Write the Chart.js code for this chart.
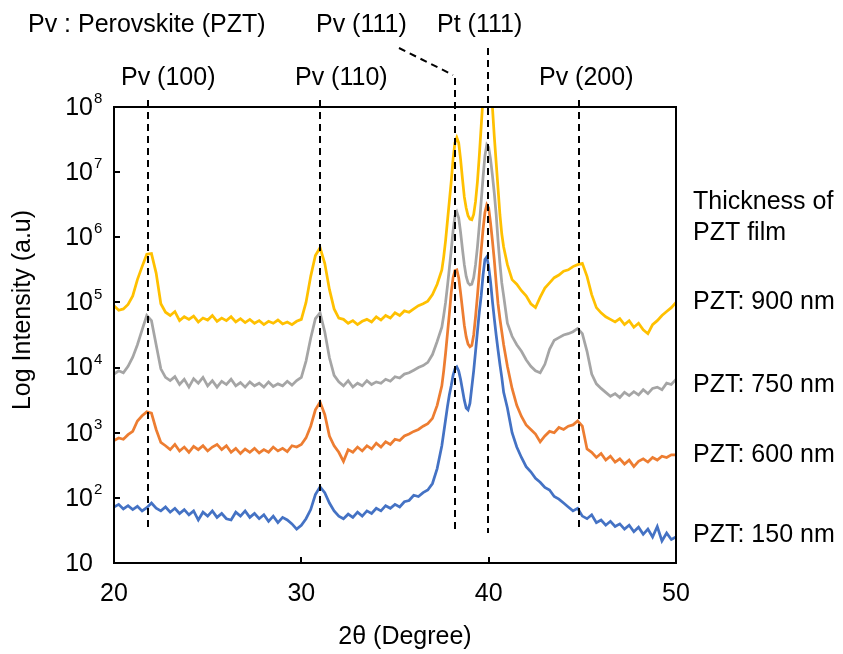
<!DOCTYPE html>
<html>
<head>
<meta charset="utf-8">
<script src="https://cdn.jsdelivr.net/npm/chart.js@4.4.1/dist/chart.umd.min.js"></script>
<style>
  html, body { margin: 0; padding: 0; background: #fff; }
  #wrap { width: 843px; height: 654px; }
</style>
</head>
<body>
<div id="wrap"><canvas id="xrdChart" width="843" height="654"></canvas></div>
<script>
// 2-theta grid (degrees)
const angles = [
  20, 20.25, 20.5, 20.75, 21, 21.25, 21.5, 21.75, 22, 22.25,
  22.5, 22.75, 23, 23.25, 23.5, 23.75, 24, 24.25, 24.5, 24.75,
  25, 25.25, 25.5, 25.75, 26, 26.25, 26.5, 26.75, 27, 27.25,
  27.5, 27.75, 28, 28.25, 28.5, 28.75, 29, 29.25, 29.5, 29.75,
  30, 30.25, 30.5, 30.75, 31, 31.25, 31.5, 31.75, 32, 32.25,
  32.5, 32.75, 33, 33.25, 33.5, 33.75, 34, 34.25, 34.5, 34.75,
  35, 35.25, 35.5, 35.75, 36, 36.25, 36.5, 36.75, 37, 37.25,
  37.5,
  37.6, 37.7, 37.8, 37.9, 38.0, 38.1, 38.2, 38.3, 38.4, 38.5,
  38.6, 38.7, 38.8, 38.9, 39.0, 39.1, 39.2, 39.3, 39.4, 39.5,
  39.6, 39.7, 39.8, 39.9, 40.0, 40.1, 40.2, 40.3, 40.4, 40.5,
  40.6, 40.7, 40.8,
  41, 41.25, 41.5, 41.75, 42, 42.25, 42.5, 42.75, 43, 43.25,
  43.5, 43.75, 44, 44.25, 44.5, 44.75, 45, 45.25, 45.5, 45.75,
  46, 46.25, 46.5, 46.75, 47, 47.25, 47.5, 47.75, 48, 48.25,
  48.5, 48.75, 49, 49.25, 49.5, 49.75, 50
];

// log10 of intensity
const log900 = [
  4.95, 4.88, 4.90, 4.97, 5.10, 5.35, 5.55, 5.74, 5.75, 5.45,
  4.98, 4.85, 4.80, 4.86, 4.72, 4.78, 4.74, 4.79, 4.70, 4.76,
  4.73, 4.80, 4.71, 4.76, 4.72, 4.78, 4.70, 4.75, 4.69, 4.74,
  4.68, 4.72, 4.66, 4.71, 4.68, 4.73, 4.67, 4.70, 4.66, 4.71,
  4.74, 5.00, 5.40, 5.72, 5.84, 5.60, 5.20, 4.90, 4.76, 4.74,
  4.68, 4.72, 4.66, 4.71, 4.74, 4.70, 4.78, 4.73, 4.80, 4.76,
  4.84, 4.80, 4.87, 4.85, 4.90, 4.95, 4.98, 5.02, 5.12, 5.28,
  5.50,
  5.70, 5.95, 6.25, 6.55, 6.85, 7.20, 7.45, 7.53, 7.45, 7.20,
  6.90, 6.62, 6.45, 6.33, 6.28, 6.27, 6.35, 6.55, 6.85, 7.25,
  7.70, 8.15, 8.60, 8.90, 8.90, 8.50, 8.00, 7.55, 7.15, 6.75,
  6.35, 6.05, 5.85,
  5.58, 5.35, 5.28, 5.18, 5.10, 4.98, 4.92, 5.08, 5.22, 5.30,
  5.38, 5.42, 5.48, 5.50, 5.55, 5.58, 5.60, 5.40, 5.12, 4.92,
  4.84, 4.78, 4.74, 4.70, 4.75, 4.66, 4.72, 4.62, 4.68, 4.58,
  4.52, 4.66, 4.72, 4.80, 4.86, 4.92, 5.00
];
const log750 = [
  3.90, 3.95, 3.92, 4.02, 4.16, 4.35, 4.58, 4.80, 4.72, 4.35,
  3.98, 3.85, 3.80, 3.86, 3.74, 3.82, 3.70, 3.83, 3.76, 3.85,
  3.72, 3.80, 3.70, 3.79, 3.74, 3.82, 3.72, 3.77, 3.70, 3.78,
  3.72, 3.76, 3.70, 3.78, 3.71, 3.75, 3.72, 3.79, 3.73, 3.80,
  3.85, 4.10, 4.45, 4.75, 4.84, 4.55, 4.15, 3.88, 3.78, 3.72,
  3.80, 3.70, 3.76, 3.72, 3.80, 3.74, 3.78, 3.76, 3.82, 3.79,
  3.86, 3.84, 3.90, 3.92, 3.96, 4.00, 4.03, 4.08, 4.20, 4.40,
  4.62,
  4.80, 5.00, 5.25, 5.52, 5.80, 6.10, 6.33, 6.39, 6.30, 6.08,
  5.82, 5.58, 5.40, 5.30, 5.27, 5.28, 5.38, 5.58, 5.85, 6.18,
  6.55, 6.92, 7.25, 7.42, 7.38, 7.20, 6.95, 6.68, 6.35, 5.95,
  5.60, 5.30, 5.10,
  4.68, 4.48, 4.35, 4.25, 4.12, 4.02, 3.95, 3.92, 4.05, 4.28,
  4.42, 4.46, 4.50, 4.52, 4.55, 4.60, 4.52, 4.25, 3.90, 3.75,
  3.68, 3.62, 3.56, 3.60, 3.54, 3.62, 3.57, 3.63, 3.58, 3.66,
  3.60, 3.68, 3.70, 3.66, 3.76, 3.74, 3.82
];
const log600 = [
  2.88, 2.92, 2.90, 2.97, 3.02, 3.18, 3.26, 3.32, 3.30, 3.05,
  2.85, 2.80, 2.74, 2.82, 2.72, 2.78, 2.70, 2.79, 2.74, 2.80,
  2.72, 2.78, 2.82, 2.74, 2.80, 2.70, 2.76, 2.68, 2.75, 2.70,
  2.76, 2.69, 2.74, 2.70, 2.78, 2.72, 2.76, 2.71, 2.80, 2.78,
  2.82, 2.92, 3.10, 3.35, 3.47, 3.28, 2.95, 2.80, 2.70, 2.56,
  2.74, 2.70, 2.78, 2.72, 2.80, 2.75, 2.84, 2.78, 2.86, 2.82,
  2.90, 2.88, 2.95, 2.98, 3.02, 3.05, 3.10, 3.14, 3.22, 3.42,
  3.72,
  3.95, 4.22, 4.52, 4.82, 5.15, 5.38, 5.49, 5.50, 5.38, 5.15,
  4.90, 4.65, 4.47, 4.36, 4.32, 4.34, 4.50, 4.78, 5.10, 5.45,
  5.80, 6.12, 6.38, 6.50, 6.45, 6.22, 5.95, 5.65, 5.30, 4.98,
  4.75, 4.55, 4.35,
  4.02, 3.68, 3.42, 3.25, 3.12, 3.05, 2.98, 2.86, 2.95, 3.02,
  3.00, 3.08, 3.05, 3.10, 3.12, 3.18, 3.10, 2.75, 2.70, 2.62,
  2.68, 2.58, 2.64, 2.55, 2.60, 2.52, 2.58, 2.48, 2.56, 2.60,
  2.55, 2.62, 2.58, 2.64, 2.62, 2.66, 2.66
];
const log150 = [
  1.86, 1.90, 1.83, 1.88, 1.82, 1.87, 1.80, 1.85, 1.92, 1.84,
  1.80, 1.86, 1.78, 1.84, 1.76, 1.82, 1.74, 1.80, 1.66, 1.78,
  1.72, 1.80, 1.70, 1.76, 1.68, 1.66, 1.78, 1.72, 1.80, 1.70,
  1.76, 1.68, 1.74, 1.64, 1.72, 1.62, 1.70, 1.66, 1.60, 1.52,
  1.58, 1.68, 1.82, 2.05, 2.17, 2.08, 1.92, 1.80, 1.72, 1.68,
  1.75, 1.70, 1.78, 1.72, 1.80, 1.76, 1.84, 1.80, 1.88, 1.84,
  1.90, 1.86, 1.94, 1.96, 2.04, 2.02, 2.08, 2.12, 2.22, 2.45,
  2.80,
  3.00, 3.20, 3.40, 3.58, 3.72, 3.88, 3.98, 4.01, 3.95, 3.82,
  3.66, 3.50, 3.38, 3.35, 3.45, 3.70, 3.95, 4.25, 4.55, 4.85,
  5.10, 5.42, 5.66, 5.70, 5.55, 5.32, 5.02, 4.75, 4.50, 4.27,
  4.05, 3.85, 3.62,
  3.38, 3.00, 2.78, 2.62, 2.48, 2.40, 2.30, 2.24, 2.16, 2.12,
  2.02, 1.98, 1.92, 1.86, 1.80, 1.84, 1.72, 1.68, 1.74, 1.62,
  1.66, 1.58, 1.64, 1.56, 1.60, 1.52, 1.58, 1.48, 1.55, 1.44,
  1.52, 1.40, 1.56, 1.34, 1.46, 1.36, 1.40
];

const seriesNames = ['PZT: 900 nm', 'PZT: 750 nm', 'PZT: 600 nm', 'PZT: 150 nm'];
const seriesColors = ['#FFC000', '#A5A5A5', '#ED7D31', '#4472C4'];
const seriesLogs = [log900, log750, log600, log150];

const yExponents = [1, 2, 3, 4, 5, 6, 7, 8];
const xTickValues = [20, 30, 40, 50];

// peak reference lines
const peakNames = ['Pv (100)', 'Pv (110)', 'Pv (111)', 'Pt (111)', 'Pv (200)'];
const peakAngles = [21.8, 31.0, 38.2, 39.95, 44.8];

const FONT = '"Liberation Sans", Arial, sans-serif';
const TEXT = '25px ' + FONT;

function toPoints(logs) {
  return angles.map((a, i) => ({ x: a, y: Math.pow(10, logs[i]) }));
}

const decorPlugin = {
  id: 'xrdDecor',
  afterDatasetsDraw(chart) {
    const { ctx, chartArea: a, scales } = chart;
    const x = scales.x, y = scales.y;
    ctx.save();

    // dashed peak markers
    ctx.strokeStyle = '#000';
    ctx.lineWidth = 2;
    ctx.setLineDash([7, 5]);
    const tops = [100, 100, 77, 48, 100];
    const bottoms = [527, 527, 533, 533, 530];
    peakAngles.forEach((ang, i) => {
      const px = Math.round(x.getPixelForValue(ang));
      ctx.beginPath();
      if (i === 2) {
        ctx.moveTo(399, 48);
        ctx.lineTo(px - 2, 75);
        ctx.moveTo(px, 78);
      } else {
        ctx.moveTo(px, tops[i]);
      }
      ctx.lineTo(px, bottoms[i]);
      ctx.stroke();
    });
    ctx.setLineDash([]);

    // frame and inside ticks
    ctx.lineWidth = 2;
    ctx.strokeRect(a.left, a.top, a.right - a.left, a.bottom - a.top);
    ctx.beginPath();
    yExponents.forEach(e => {
      const py = Math.round(y.getPixelForValue(Math.pow(10, e)));
      ctx.moveTo(a.left, py);
      ctx.lineTo(a.left + 6, py);
    });
    xTickValues.forEach(v => {
      const px = Math.round(x.getPixelForValue(v));
      ctx.moveTo(px, a.bottom);
      ctx.lineTo(px, a.bottom - 6);
    });
    ctx.stroke();

    // y tick labels 10^n
    ctx.fillStyle = '#000';
    ctx.textBaseline = 'middle';
    yExponents.forEach(e => {
      const py = y.getPixelForValue(Math.pow(10, e));
      ctx.font = TEXT;
      ctx.textAlign = 'right';
      ctx.fillText('10', 93, py + 1);
      if (e > 1) {
        ctx.font = '15px ' + FONT;
        ctx.textAlign = 'left';
        ctx.fillText(String(e), 94, py - 8);
      }
    });

    // axis titles
    ctx.font = TEXT;
    ctx.textAlign = 'center';
    ctx.fillText('2θ (Degree)', 405, 637);
    ctx.save();
    ctx.translate(23, 310);
    ctx.rotate(-Math.PI / 2);
    ctx.fillText('Log Intensity (a.u)', 0, 0);
    ctx.restore();

    // peak labels
    ctx.textAlign = 'left';
    ctx.fillText('Pv : Perovskite (PZT)', 28, 25);
    const labelPos = [[121, 78], [295, 78], [316, 25], [437, 25], [539, 78]];
    peakNames.forEach((n, i) => ctx.fillText(n, labelPos[i][0], labelPos[i][1]));

    // series labels on the right
    ctx.fillText('Thickness of', 693, 202);
    ctx.fillText('PZT film', 693, 233);
    const labelY = [302, 385, 455, 535];
    seriesNames.forEach((n, i) => ctx.fillText(n, 693, labelY[i]));

    ctx.restore();
  }
};

new Chart(document.getElementById('xrdChart'), {
  type: 'line',
  data: {
    datasets: seriesNames.map((name, i) => ({
      label: name,
      data: toPoints(seriesLogs[i]),
      borderColor: seriesColors[i],
      borderWidth: 2.75,
      pointRadius: 0,
      tension: 0,
      fill: false
    }))
  },
  options: {
    responsive: false,
    animation: false,
    devicePixelRatio: 1,
    layout: { padding: { left: 114, right: 167, top: 107, bottom: 0 } },
    plugins: { legend: { display: false }, tooltip: { enabled: false } },
    scales: {
      x: {
        type: 'linear',
        min: 20,
        max: 50,
        ticks: { stepSize: 10, color: '#000', font: { size: 25, family: FONT }, padding: 16 },
        grid: { display: false, drawTicks: false },
        border: { display: false },
        afterFit(scale) { scale.height = 91; }
      },
      y: {
        type: 'logarithmic',
        min: 10,
        max: 1e8,
        display: false
      }
    }
  },
  plugins: [decorPlugin]
});
</script>
</body>
</html>
